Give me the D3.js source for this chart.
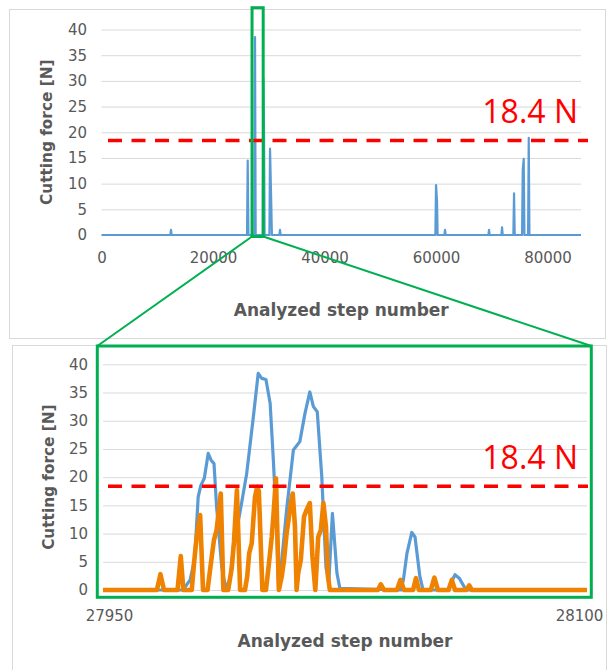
<!DOCTYPE html>
<html>
<head>
<meta charset="utf-8">
<script src="https://cdn.jsdelivr.net/npm/d3@7"></script>
<style>
    body { margin: 0; background: #ffffff; }
    .axis text { fill: #595959; font-family: "DejaVu Sans", sans-serif; font-size: 15px; }
    .grid line { stroke: #d9d9d9; stroke-width: 1; }
    .axis-title { fill: #595959; font-family: "DejaVu Sans", sans-serif; font-weight: bold; }
    .limit-label { fill: #ff0000; font-family: "Open Sans", sans-serif; font-size: 32px; }
</style>
</head>
<body>
<div id="chart"></div>
<script>

// ---- data ----

// whole run (upper panel)
const overviewSteps = [0, 12350, 12466, 12580, 26100, 26224, 26350, 27420, 27534, 27650,
    28940, 29022, 29150, 29250, 30120, 30225, 30450, 30560, 31900, 32018, 32130,
    59880, 60000, 60180, 60280, 61500, 61614, 61730, 69390, 69507, 69620,
    71720, 71839, 71960, 73870, 73991, 74110, 75430, 75550, 75730, 75850,
    76510, 76628, 76750, 86000];
const overviewForce = [0, 0, 1, 0, 0, 14.5, 0, 0, 38.5, 0,
    0, 30.5, 20, 0, 0, 16.8, 6, 0, 0, 1, 0,
    0, 9.7, 6.5, 0, 0, 1, 0, 0, 1, 0,
    0, 1.5, 0, 0, 8.1, 0, 0, 12.7, 14.8, 0,
    0, 18.9, 0, 0];
const overviewTicksX = [0, 20000, 40000, 60000, 80000];

// zoomed window (lower panel), blue series
const zoomBlueSteps = [27950, 27974.8, 27977.0, 27978.4, 27979.5, 27980.3, 27981.4, 27982.6, 27983.5, 27984.4,
    27985.2, 27986.8, 27988.0, 27989.4, 27990.4, 27992.4, 27994.5, 27996.6, 27998.1, 27999.2,
    28000.5, 28001.8, 28002.8, 28003.8, 28004.4, 28005.4, 28006.9, 28009.0, 28011.0, 28012.6,
    28014.1, 28015.2, 28016.4, 28017.8, 28019.1, 28020.0, 28021.1, 28021.8, 28022.5, 28023.4,
    28042.3, 28043.1, 28044.2, 28045.7, 28046.7, 28048.2, 28049.2,
    28056.9, 28057.8, 28059.1, 28060.4, 28062.2, 28062.8, 28100];
const zoomBlueForce = [0, 0, 1.8, 5.5, 16.5, 18.5, 19.8, 24.2, 23.0, 22.4,
    14.8, 4.1, 0.3, 2.0, 7.7, 13.6, 20.5, 30.7, 38.4, 37.5,
    37.3, 33.1, 23.0, 11.2, 0.8, 5.3, 14.2, 24.8, 26.3, 31.3,
    35.1, 32.5, 31.6, 20.1, 4.0, 1.5, 13.6, 8.3, 3.0, 0.3,
    0, 1.8, 6.5, 10.2, 9.4, 2.4, 0,
    0, 1.2, 2.7, 2.1, 0.3, 0, 0];

// zoomed window (lower panel), orange series
const zoomOrangeSteps = [27950, 27966.7, 27967.8, 27968.9, 27973.1, 27974.1, 27974.9, 27977.5, 27978.3, 27979.0,
    27980.1, 27981.0, 27982.4, 27983.7, 27984.4, 27985.2, 27986.5, 27987.3, 27988.8, 27989.9,
    27990.6, 27991.5, 27992.5, 27994.0, 27994.7, 27995.3, 27996.1, 27997.1, 27997.8, 27998.3,
    27999.4, 28000.5, 28001.2, 28002.3, 28002.8, 28003.6, 28004.5, 28005.4, 28006.1, 28006.9,
    28008.2, 28008.8, 28009.5, 28010.0, 28010.5, 28011.3, 28012.3, 28013.1, 28014.1, 28014.9,
    28015.8, 28016.7, 28017.5, 28018.3, 28019.1, 28019.7, 28020.3,
    28035.2, 28036.1, 28037.1, 28041.1, 28042.2, 28043.3, 28046.1, 28047.0, 28047.9,
    28051.6, 28052.7, 28053.8, 28057.1, 28058.1, 28059.1, 28062.6, 28063.5, 28064.3, 28100];
const zoomOrangeForce = [0, 0, 2.8, 0, 0, 6.0, 0, 0, 5.3, 9.2,
    13.3, 0, 0, 5.9, 8.9, 10.6, 17.1, 0, 0, 3.9,
    8.6, 17.7, 0, 0, 2.4, 6.5, 8.3, 16.5, 18.3, 17.5,
    0, 0, 3.5, 9.4, 13.0, 19.8, 0, 2.4, 5.3, 10.0,
    15.4, 17.1, 11.2, 0, 3.0, 5.3, 13.0, 14.2, 15.4, 6.0,
    0, 9.4, 10.6, 15.4, 11.2, 2.5, 0,
    0, 1.0, 0, 0, 1.8, 0, 0, 2.1, 0,
    0, 2.2, 0, 0, 1.8, 0, 0, 0.8, 0, 0];
const zoomTicksX = [27950, 28100];

const forceTicks = [0, 5, 10, 15, 20, 25, 30, 35, 40];
const thresholdForce = 18.4;
const thresholdLabel = "18.4 N";
const zoomWindowSteps = [27000, 29000];   // green box drawn on the overview
const xTitle = "Analyzed step number";
const yTitle = "Cutting force [N]";

const blue = "#5b9bd5";
const orange = "#ef8200";
const green = "#00b050";

/* * * * * * * * * * * * * *
*     class ForceChart     *
* * * * * * * * * * * * * */

class ForceChart {

    constructor(svg, config) {
        this.svg = svg;
        this.config = config;
        this.initVis();
    }

    initVis() {
        let vis = this;
        let c = vis.config;

        vis.x = d3.scaleLinear()
            .domain(c.xDomain)
            .range([c.left, c.right]);

        vis.y = d3.scaleLinear()
            .domain([0, 40])
            .range([c.bottom, c.top]);

        // gridlines
        vis.svg.append("g")
            .attr("class", "grid")
            .attr("transform", `translate(${c.left},0)`)
            .call(d3.axisLeft(vis.y).tickValues(forceTicks).tickSize(-(c.right - c.left)).tickFormat(""))
            .call(g => g.select(".domain").remove());

        // y labels
        vis.svg.append("g")
            .attr("class", "axis")
            .attr("transform", `translate(${c.left},0)`)
            .call(d3.axisLeft(vis.y).tickValues(forceTicks).tickSize(0).tickPadding(c.yPad))
            .call(g => g.select(".domain").remove());

        // x labels
        vis.svg.append("g")
            .attr("class", "axis")
            .attr("transform", `translate(0,${c.bottom})`)
            .call(d3.axisBottom(vis.x).tickValues(c.xTicks).tickSize(0).tickPadding(c.xPad).tickFormat(d => d))
            .call(g => g.select(".domain").remove())
            .selectAll("text")
            .attr("dx", (d, i) => c.xShift[i]);

        // series
        vis.line = d3.line()
            .x(d => vis.x(d[0]))
            .y(d => vis.y(d[1]));

        c.series.forEach(function(s) {
            vis.svg.append("path")
                .datum(d3.zip(s.steps, s.force))
                .attr("fill", "none")
                .attr("stroke", s.color)
                .attr("stroke-width", s.width)
                .attr("stroke-linejoin", "round")
                .attr("d", vis.line);
        });

        // 18.4 N limit
        let ly = vis.y(thresholdForce);
        vis.svg.append("line")
            .attr("x1", c.limitX[0])
            .attr("x2", c.limitX[1])
            .attr("y1", ly)
            .attr("y2", ly)
            .attr("stroke", "#ff0000")
            .attr("stroke-width", 3.5)
            .attr("stroke-dasharray", "14,9.5");

        vis.svg.append("text")
            .attr("class", "limit-label")
            .attr("x", 578)
            .attr("y", ly - 17.5)
            .attr("text-anchor", "end")
            .text(thresholdLabel);

        // axis titles
        vis.svg.append("text")
            .attr("class", "axis-title")
            .attr("x", (c.left + c.right) / 2)
            .attr("y", c.bottom + c.xTitleGap)
            .attr("text-anchor", "middle")
            .attr("dominant-baseline", "central")
            .style("font-size", "17px")
            .text(xTitle);

        vis.svg.append("text")
            .attr("class", "axis-title")
            .attr("transform", `translate(${c.left - c.yTitleGap},${(c.top + c.bottom) / 2}) rotate(-90)`)
            .attr("text-anchor", "middle")
            .attr("dominant-baseline", "central")
            .style("font-size", "15.3px")
            .text(yTitle);
    }
}

// SVG drawing area
let svg = d3.select("#chart").append("svg")
    .attr("width", 608)
    .attr("height", 670);

// panel frames
svg.append("rect")
    .attr("x", 9.5).attr("y", 9.5).attr("width", 596).attr("height", 329)
    .attr("fill", "none").attr("stroke", "#d9d9d9");
svg.append("rect")
    .attr("x", 12.5).attr("y", 345.5).attr("width", 594).attr("height", 340)
    .attr("fill", "none").attr("stroke", "#d9d9d9");

let overview = new ForceChart(svg, {
    xDomain: [0, 86000], xTicks: overviewTicksX, xShift: [0, 0, 0, 0, 0],
    left: 101.5, right: 581, top: 29.5, bottom: 235,
    yPad: 14.5, xPad: 17, xTitleGap: 75, yTitleGap: 55,
    limitX: [108, 588],
    series: [{steps: overviewSteps, force: overviewForce, color: blue, width: 2.2}]
});

let zoomed = new ForceChart(svg, {
    xDomain: [27950, 28100], xTicks: zoomTicksX, xShift: [6, -8],
    left: 103, right: 587, top: 364.3, bottom: 590,
    yPad: 15, xPad: 20, xTitleGap: 51, yTitleGap: 54,
    limitX: [108, 588],
    series: [
        {steps: zoomBlueSteps, force: zoomBlueForce, color: blue, width: 3.2},
        {steps: zoomOrangeSteps, force: zoomOrangeForce, color: orange, width: 4.6}
    ]
});

// highlight box on the overview and the zoom frame
let bx0 = overview.x(zoomWindowSteps[0]);
let bx1 = overview.x(zoomWindowSteps[1]);
let by0 = 7.7, by1 = 236.5;
let zx0 = 97.3, zx1 = 591.3, zy0 = 346, zy1 = 597.3;

svg.append("rect")
    .attr("x", bx0).attr("y", by0).attr("width", bx1 - bx0).attr("height", by1 - by0)
    .attr("fill", "none").attr("stroke", green).attr("stroke-width", 3);

svg.append("line")
    .attr("x1", bx0).attr("y1", by1).attr("x2", zx0).attr("y2", zy0)
    .attr("stroke", green).attr("stroke-width", 2);
svg.append("line")
    .attr("x1", bx1).attr("y1", by1).attr("x2", zx1).attr("y2", zy0)
    .attr("stroke", green).attr("stroke-width", 2);

svg.append("rect")
    .attr("x", zx0).attr("y", zy0).attr("width", zx1 - zx0).attr("height", zy1 - zy0)
    .attr("fill", "none").attr("stroke", green).attr("stroke-width", 3);

</script>
</body>
</html>
